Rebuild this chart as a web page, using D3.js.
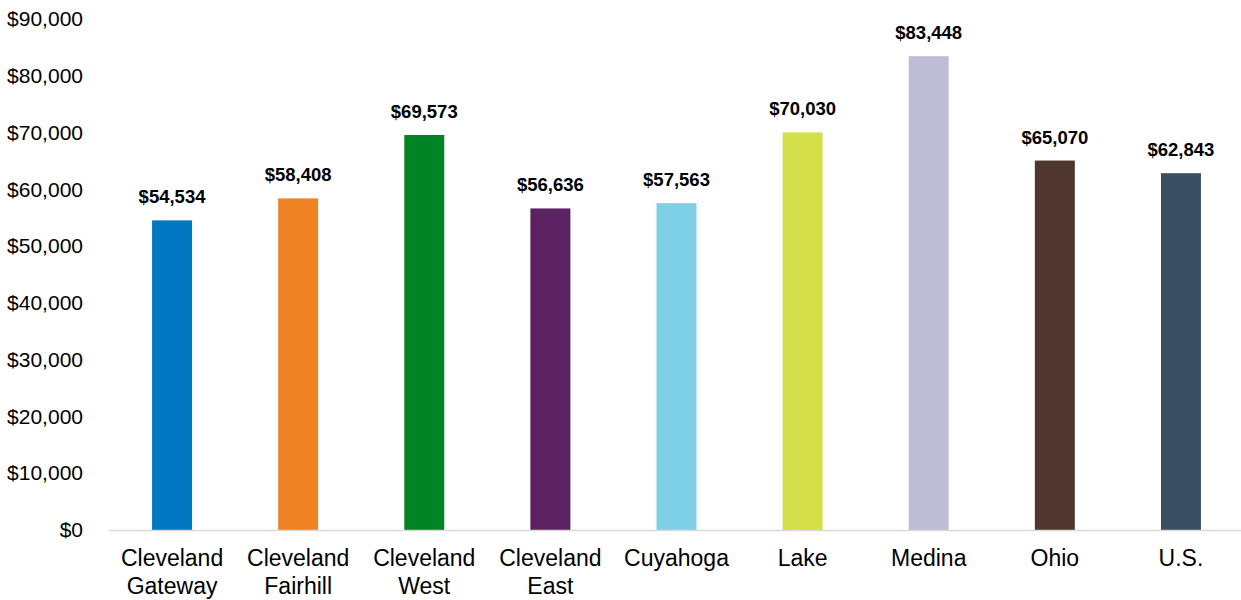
<!DOCTYPE html>
<html>
<head>
<meta charset="utf-8">
<script src="https://cdn.jsdelivr.net/npm/d3@7"></script>
<style>
  body { margin: 0; background: #fff; }
  svg { display: block; font-family: "Liberation Sans", Arial, sans-serif; }
</style>
</head>
<body>
<svg id="chart"></svg>
<script>
// chart data
const categories = [
    ["Cleveland", "Gateway"],
    ["Cleveland", "Fairhill"],
    ["Cleveland", "West"],
    ["Cleveland", "East"],
    ["Cuyahoga"],
    ["Lake"],
    ["Medina"],
    ["Ohio"],
    ["U.S."]
];
const values = [54534, 58408, 69573, 56636, 57563, 70030, 83448, 65070, 62843];
const barColors = ["#0077c0", "#f08323", "#008425", "#5c2160", "#7dd0e6", "#d4df4a", "#bfbcd6", "#4f362e", "#3a4e62"];
const yTicks = [0, 10000, 20000, 30000, 40000, 50000, 60000, 70000, 80000, 90000];

const width = 1241, height = 600;
const margin = {top: 19, right: -3, bottom: 70, left: 109};
const innerW = width - margin.left - margin.right;
const innerH = height - margin.top - margin.bottom;

const svg = d3.select("#chart")
    .attr("width", width)
    .attr("height", height);

const chart = svg.append("g")
    .attr("transform", `translate(${margin.left},${margin.top})`);

const keys = categories.map(c => c.join(" "));

const xScale = d3.scaleBand()
    .domain(keys)
    .range([0, innerW])
    .paddingInner(0.683)
    .paddingOuter(0.3415);

const yScale = d3.scaleLinear()
    .domain([0, 90000])
    .range([innerH, 0]);

const money = d3.format("$,");

// y-axis labels only, no line
const yAxis = d3.axisLeft(yScale).tickValues(yTicks).tickFormat(money).tickSize(0).tickPadding(26);
const yAxisG = chart.append("g").attr("class", "axis y-axis").call(yAxis);
yAxisG.select(".domain").remove();
yAxisG.selectAll("text")
    .attr("fill", "#000")
    .style("font-size", "21px")
    .style("font-family", "Liberation Sans, Arial, sans-serif");

// bars
chart.selectAll("rect.bar")
    .data(values)
    .join("rect")
    .attr("class", "bar")
    .attr("x", (d, i) => xScale(keys[i]))
    .attr("y", d => yScale(d))
    .attr("width", xScale.bandwidth())
    .attr("height", d => innerH - yScale(d))
    .attr("fill", (d, i) => barColors[i]);

// baseline
chart.append("line")
    .attr("x1", 0)
    .attr("x2", innerW)
    .attr("y1", yScale(0) + 0.5)
    .attr("y2", yScale(0) + 0.5)
    .attr("stroke", "#d9d9d9")
    .attr("stroke-width", 1.5);

// value labels
chart.selectAll("text.value")
    .data(values)
    .join("text")
    .attr("class", "value")
    .attr("x", (d, i) => xScale(keys[i]) + xScale.bandwidth() / 2)
    .attr("y", d => yScale(d) - 17)
    .attr("text-anchor", "middle")
    .style("font-size", "18.5px")
    .style("font-weight", "bold")
    .text(d => money(d));

// category labels
const xAxis = d3.axisBottom(xScale).tickSize(0).tickFormat("");
chart.append("g")
    .attr("class", "axis x-axis")
    .attr("transform", `translate(0,${innerH})`)
    .call(xAxis)
    .select(".domain").remove();

const catG = chart.selectAll("text.cat")
    .data(categories)
    .join("text")
    .attr("class", "cat")
    .attr("x", (d, i) => xScale(keys[i]) + xScale.bandwidth() / 2)
    .attr("y", innerH + 36)
    .attr("text-anchor", "middle")
    .style("font-size", "23px");

catG.selectAll("tspan")
    .data(d => d)
    .join("tspan")
    .attr("x", function () { return d3.select(this.parentNode).attr("x"); })
    .attr("dy", (d, i) => i === 0 ? 0 : 27.5)
    .text(d => d);
</script>
</body>
</html>
